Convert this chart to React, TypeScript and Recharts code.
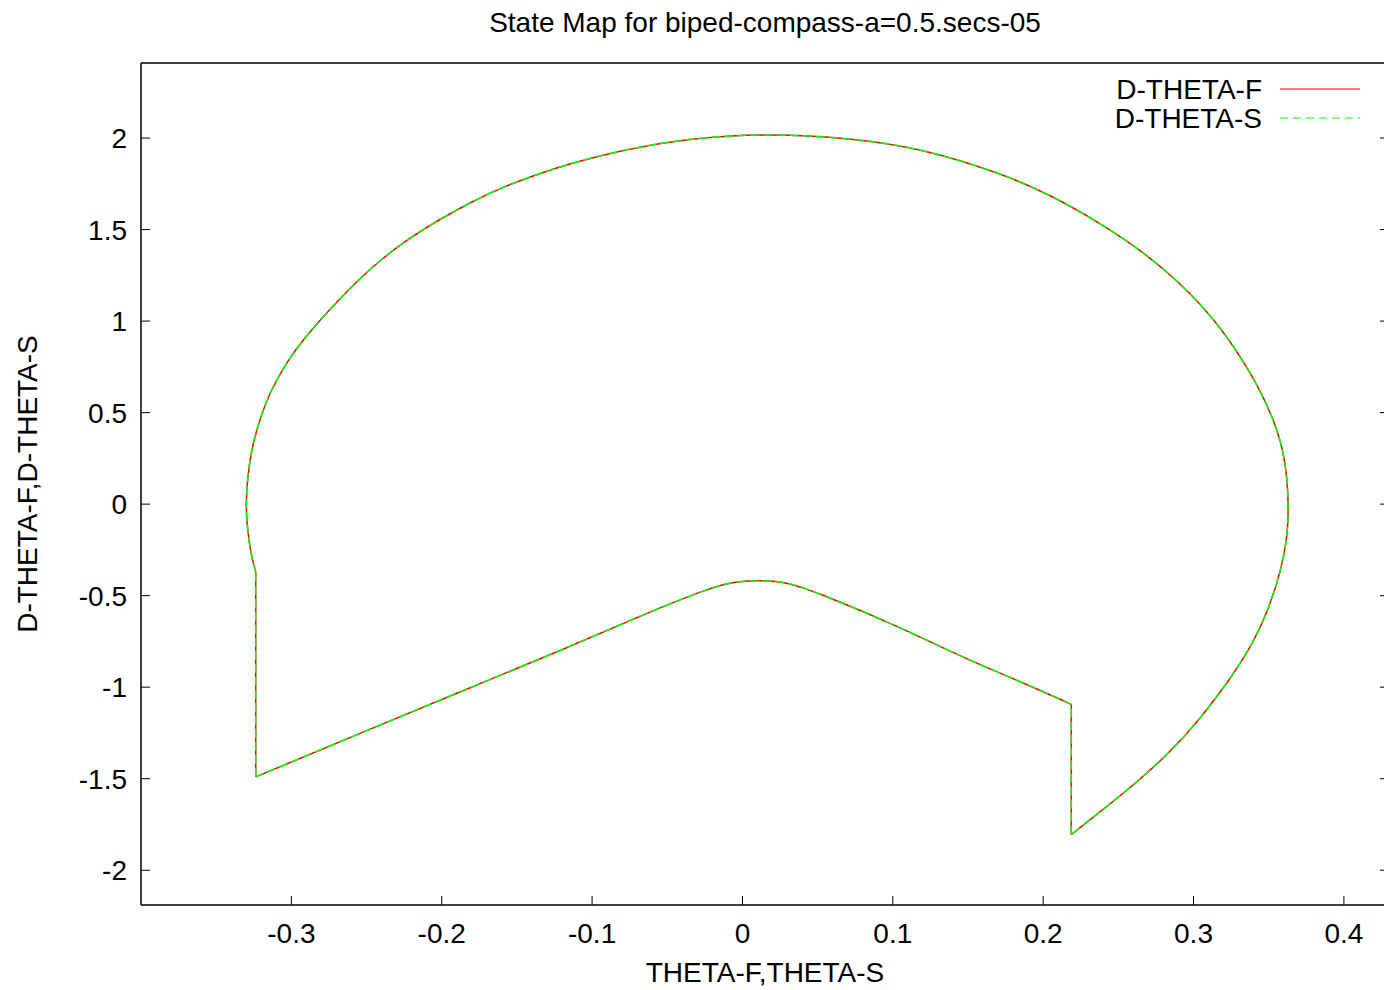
import * as React from "react";
import { LineChart, Line, XAxis, YAxis, Legend } from "recharts";

// state trajectory (theta, d-theta), in drawing order
const thetaF = [
  -0.3237, -0.3259, -0.3282, -0.3297, -0.3301, -0.3294, -0.3264, -0.3209, -0.3142, -0.3031,
  -0.2898, -0.2699, -0.2477, -0.2255, -0.2034, -0.1812, -0.159, -0.1369, -0.1143, -0.081,
  -0.0366, 0.0166, 0.0742, 0.1185, 0.1717, 0.205, 0.2382, 0.2648, 0.2892, 0.3158,
  0.338, 0.3535, 0.3612, 0.3634, 0.3624, 0.3579, 0.3501, 0.3402, 0.3247, 0.3047,
  0.2826, 0.256, 0.2338, 0.2187, 0.2187, 0.2116, 0.1784, 0.1451, 0.1008, 0.0565,
  0.0299, 0.0121, -0.0034, -0.0256, -0.0699, -0.1209, -0.1887, -0.2559, -0.3237, -0.3237,
];
const dThetaF = [
  -0.37, -0.306, -0.206, -0.087, 0, 0.131, 0.306, 0.468, 0.614, 0.778,
  0.923, 1.105, 1.288, 1.432, 1.546, 1.648, 1.734, 1.801, 1.861, 1.934,
  1.998, 2.026, 1.998, 1.944, 1.809, 1.689, 1.534, 1.388, 1.224, 0.996,
  0.723, 0.468, 0.25, 0, -0.187, -0.37, -0.57, -0.752, -0.952, -1.171,
  -1.372, -1.563, -1.707, -1.805, -1.095, -1.067, -0.948, -0.829, -0.661, -0.507,
  -0.433, -0.419, -0.426, -0.474, -0.619, -0.798, -1.029, -1.258, -1.49, -0.37,
];
// the S trajectory lies exactly on top of the F one
const thetaS = thetaF;
const dThetaS = dThetaF;

const xTicks = [-0.3, -0.2, -0.1, 0, 0.1, 0.2, 0.3, 0.4];
const yTicks = [-2, -1.5, -1, -0.5, 0, 0.5, 1, 1.5, 2];

// smooth stretches of the orbit and the two impact jumps
const ARC = [0, 43];
const LOWER = [44, 58];
const JUMPS = [[43, 44], [58, 59]];

function pieces(xs: number[], ys: number[]) {
  const pick = (a: number, b: number) => xs.slice(a, b + 1).map((x, i) => ({ x, y: ys[a + i] }));
  const jumps: { x: number; y: number | null }[] = [];
  JUMPS.forEach(([a, b], k) => {
    if (k > 0) jumps.push({ x: xs[a], y: null });
    jumps.push(...pick(a, b));
  });
  return { arc: pick(ARC[0], ARC[1]), lower: pick(LOWER[0], LOWER[1]), jumps };
}

const series = [
  { name: "D-THETA-F", color: "#ff0000", dash: undefined, ...pieces(thetaF, dThetaF) },
  { name: "D-THETA-S", color: "#00ff00", dash: "9 4", ...pieces(thetaS, dThetaS) },
];

const FONT = "'Liberation Sans', Arial, Helvetica, sans-serif";
const FS = 28;
const LW = 1.5;
const tickStyle = { fill: "#000", fontSize: FS, fontFamily: FONT };
const frame = { stroke: "#000", strokeWidth: 1.5 };
const tickLn = { stroke: "#000", strokeWidth: 1 };
const X_DOMAIN = [-0.4, 0.43];
const Y_DOMAIN = [-2.19, 2.41];

function LegendBox() {
  return (
    <div style={{ width: 370, fontFamily: FONT, fontSize: FS, color: "#000" }}>
      {series.map((s) => (
        <div
          key={s.name}
          style={{ display: "flex", justifyContent: "flex-end", alignItems: "center", height: 29 }}
        >
          <span style={{ lineHeight: "29px" }}>{s.name}</span>
          <svg width={98} height={29}>
            <line x1={18} x2={98} y1={14} y2={14} stroke={s.color} strokeWidth={1} strokeDasharray={s.dash ? "8 5" : undefined} />
          </svg>
        </div>
      ))}
    </div>
  );
}

export default function App() {
  return (
    <div
      style={{
        position: "absolute",
        left: 0,
        top: 0,
        width: 1384,
        height: 990,
        overflow: "hidden",
        background: "#fff",
      }}
    >
      <LineChart width={1400} height={990} margin={{ top: 62, right: 10, bottom: 30, left: 0 }}>
        <XAxis
          dataKey="x"
          type="number"
          domain={X_DOMAIN}
          allowDataOverflow
          ticks={xTicks}
          interval={0}
          height={55}
          tickSize={-9}
          tickMargin={27}
          axisLine={frame}
          tickLine={tickLn}
          tick={tickStyle}
          label={(p: any) => {
            const vb = p.viewBox;
            return (
              <text x={vb.x + vb.width / 2} y={vb.y + vb.height + 22} textAnchor="middle" fontSize={FS} fontFamily={FONT} fill="#000">
                THETA-F,THETA-S
              </text>
            );
          }}
        />
        <XAxis
          xAxisId="top"
          orientation="top"
          type="number"
          domain={X_DOMAIN}
          allowDataOverflow
          ticks={xTicks}
          interval={0}
          height={1}
          tickSize={-9}
          tickFormatter={() => ""}
          axisLine={frame}
          tickLine={tickLn}
          label={(p: any) => {
            const vb = p.viewBox;
            return (
              <text x={vb.x + vb.width / 2} y={32} textAnchor="middle" fontSize={FS} fontFamily={FONT} fill="#000">
                State Map for biped-compass-a=0.5.secs-05
              </text>
            );
          }}
        />
        <YAxis
          type="number"
          domain={Y_DOMAIN}
          allowDataOverflow
          ticks={yTicks}
          interval={0}
          width={141}
          tickSize={-9}
          tickMargin={23}
          axisLine={frame}
          tickLine={tickLn}
          tick={tickStyle}
          label={(p: any) => {
            const vb = p.viewBox;
            const cy = vb.y + vb.height / 2;
            return (
              <text x={37} y={cy} transform={`rotate(-90, 37, ${cy})`} textAnchor="middle" fontSize={FS} fontFamily={FONT} fill="#000">
                D-THETA-F,D-THETA-S
              </text>
            );
          }}
        />
        <YAxis
          yAxisId="right"
          orientation="right"
          type="number"
          domain={Y_DOMAIN}
          allowDataOverflow
          ticks={yTicks}
          interval={0}
          width={1}
          tickSize={-9}
          tickFormatter={() => ""}
          axisLine={frame}
          tickLine={tickLn}
        />
        <Legend
          layout="vertical"
          align="center"
          verticalAlign="middle"
          content={LegendBox}
          wrapperStyle={{ position: "absolute", top: 74.5, left: 990, width: 370, height: 58 }}
        />
        {series.flatMap((s) => [
          <Line
            key={s.name + "-arc"}
            data={s.arc}
            dataKey="y"
            name={s.name}
            type="basis"
            stroke={s.color}
            strokeWidth={LW}
            strokeDasharray={s.dash}
            dot={false}
            activeDot={false}
            isAnimationActive={false}
          />,
          <Line
            key={s.name + "-lower"}
            data={s.lower}
            dataKey="y"
            name={s.name + " lower"}
            legendType="none"
            type="natural"
            stroke={s.color}
            strokeWidth={LW}
            strokeDasharray={s.dash}
            dot={false}
            activeDot={false}
            isAnimationActive={false}
          />,
          <Line
            key={s.name + "-jumps"}
            data={s.jumps}
            dataKey="y"
            name={s.name + " jumps"}
            legendType="none"
            type="linear"
            stroke={s.color}
            strokeWidth={LW}
            strokeDasharray={s.dash}
            dot={false}
            activeDot={false}
            isAnimationActive={false}
          />,
        ])}
      </LineChart>
    </div>
  );
}
